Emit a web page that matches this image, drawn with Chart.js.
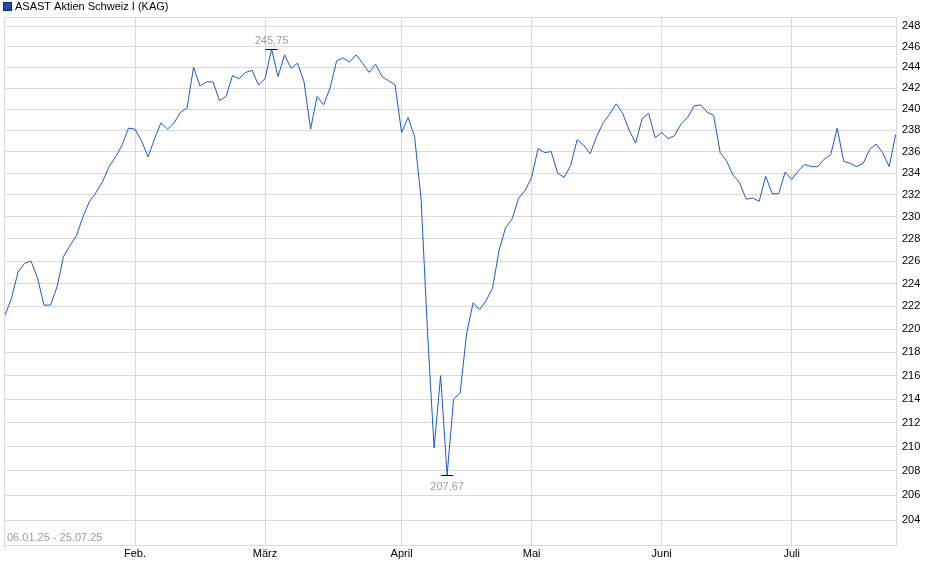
<!DOCTYPE html>
<html>
<head>
<meta charset="utf-8">
<script src="https://cdn.jsdelivr.net/npm/chart.js@4/dist/chart.umd.min.js"></script>
<style>
  html, body { margin: 0; padding: 0; background: #fff; }
  #chart { display: block; }
</style>
</head>
<body>
<canvas id="chart" width="940" height="579"></canvas>
<script>
const serieNome = 'ASAST Aktien Schweiz I (KAG)';
const periodoTexto = '06.01.25 - 25.07.25';

// Handelstage 06.01.25 ... 25.07.25 (Index = Handelstag)
const kurse = [
  221.2, 222.7, 225.0, 225.8, 226.0, 224.5, 222.1, 222.1, 223.7, 226.4,
  227.4, 228.3, 230.0, 231.4, 232.2, 233.2, 234.6, 235.5, 236.6, 238.2,
  238.1, 237.0, 235.5, 237.2, 238.7, 238.1, 238.7, 239.7, 240.1, 244.0,
  242.2, 242.6, 242.6, 240.8, 241.2, 243.2, 242.9, 243.5, 243.7, 242.3,
  242.9, 245.75, 243.1, 245.2, 243.9, 244.4, 242.6, 238.1, 241.2, 240.4,
  242.0, 244.6, 244.9, 244.5, 245.2, 244.4, 243.5, 244.3, 243.1, 242.7,
  242.3, 237.8, 239.2, 237.4, 231.6, 219.6, 209.9, 216.0, 207.67, 214.0,
  214.5, 219.6, 222.3, 221.7, 222.5, 223.6, 227.0, 229.0, 229.8, 231.7,
  232.4, 233.6, 236.3, 235.9, 236.0, 234.0, 233.6, 234.7, 237.1, 236.6,
  235.8, 237.4, 238.7, 239.5, 240.5, 239.6, 238.0, 236.8, 239.1, 239.6,
  237.3, 237.8, 237.2, 237.5, 238.6, 239.2, 240.3, 240.4, 239.7, 239.4,
  235.9, 235.1, 233.8, 233.1, 231.6, 231.7, 231.4, 233.7, 232.1, 232.1,
  234.1, 233.4, 234.2, 234.8, 234.6, 234.6, 235.3, 235.7, 238.2, 235.1,
  234.9, 234.6, 234.9, 236.2, 236.7, 235.9, 234.6, 237.6
];

const monatIndex = [20, 40, 61, 81, 101, 121];
const monatNamen = ['Feb.', 'März', 'April', 'Mai', 'Juni', 'Juli'];

const yTicks = [204, 206, 208, 210, 212, 214, 216, 218, 220, 222, 224, 226,
  228, 230, 232, 234, 236, 238, 240, 242, 244, 246, 248];

const COR_LINHA = '#1a5ac8';
const COR_GRADE = '#dadada';
const COR_INFO = '#a39a90';
const FONTE = '"Liberation Sans", Arial, sans-serif';

const pontos = kurse.map((v, i) => ({ x: i, y: v }));

function formatarKurs(v) {
  return v.toFixed(2).replace('.', ',');
}

const extras = {
  id: 'extras',
  beforeDatasetsDraw(chart) {
    const { ctx, chartArea: a } = chart;
    ctx.save();
    ctx.strokeStyle = COR_GRADE;
    ctx.lineWidth = 1;
    ctx.strokeRect(Math.round(a.left) - 0.5, Math.round(a.top) + 0.5,
      Math.round(a.right - a.left), Math.round(a.bottom - a.top));
    // kleiner Strich links unten
    ctx.beginPath();
    ctx.moveTo(Math.round(a.left) - 0.5, a.bottom);
    ctx.lineTo(Math.round(a.left) - 0.5, a.bottom + 3);
    ctx.stroke();
    ctx.restore();
  },
  afterDraw(chart) {
    const { ctx, chartArea: a, scales } = chart;
    ctx.save();

    // Legende
    ctx.fillStyle = '#1d4fb3';
    ctx.fillRect(3, 2, 9, 9);
    ctx.strokeStyle = '#0c2a6a';
    ctx.lineWidth = 1;
    ctx.strokeRect(3.5, 2.5, 8, 8);
    ctx.fillStyle = '#000';
    ctx.font = '11px ' + FONTE;
    ctx.textBaseline = 'middle';
    ctx.textAlign = 'left';
    ctx.fillText(serieNome, 15, 6.5);

    // Zeitraum
    ctx.fillStyle = COR_INFO;
    ctx.fillText(periodoTexto, a.left + 2, a.bottom - 7);

    // Hoch / Tief
    let iMax = 0, iMin = 0;
    kurse.forEach((v, i) => {
      if (v > kurse[iMax]) iMax = i;
      if (v < kurse[iMin]) iMin = i;
    });
    [[iMax, -9], [iMin, 11]].forEach(([i, dy]) => {
      const px = scales.x.getPixelForValue(i);
      const py = Math.round(scales.y.getPixelForValue(kurse[i])) + 0.5;
      ctx.strokeStyle = '#000';
      ctx.beginPath();
      ctx.moveTo(px - 6, py);
      ctx.lineTo(px + 6, py);
      ctx.stroke();
      ctx.fillStyle = COR_INFO;
      ctx.textAlign = 'center';
      ctx.fillText(formatarKurs(kurse[i]), px, py + dy);
    });
    ctx.restore();
  }
};

new Chart(document.getElementById('chart'), {
  type: 'line',
  data: {
    datasets: [{
      label: serieNome,
      data: pontos,
      borderColor: COR_LINHA,
      borderWidth: 1,
      pointRadius: 0,
      tension: 0,
      fill: false,
    }],
  },
  options: {
    responsive: false,
    devicePixelRatio: 1,
    animation: false,
    layout: { padding: { top: 17, left: 5, right: 0, bottom: 0 } },
    plugins: { legend: { display: false }, tooltip: { enabled: false } },
    scales: {
      x: {
        type: 'linear',
        min: 0,
        max: 137.2,
        afterBuildTicks: (s) => { s.ticks = monatIndex.map((v) => ({ value: v })); },
        afterFit: (s) => { s.height = 34; },
        grid: { color: COR_GRADE, drawTicks: false },
        border: { display: false },
        ticks: {
          autoSkip: false,
          maxRotation: 0,
          padding: 2,
          color: '#000',
          font: { family: FONTE, size: 11 },
          callback: (v) => monatNamen[monatIndex.indexOf(v)] || '',
        },
      },
      y: {
        type: 'logarithmic',
        position: 'right',
        min: 202,
        max: 248.9,
        afterBuildTicks: (s) => { s.ticks = yTicks.map((v) => ({ value: v })); },
        afterFit: (s) => { s.width = 43; },
        grid: { color: COR_GRADE, drawTicks: false },
        border: { display: false },
        ticks: {
          padding: 5,
          color: '#000',
          font: { family: FONTE, size: 11 },
          callback: (v) => String(v),
        },
      },
    },
  },
  plugins: [extras],
});
</script>
</body>
</html>
